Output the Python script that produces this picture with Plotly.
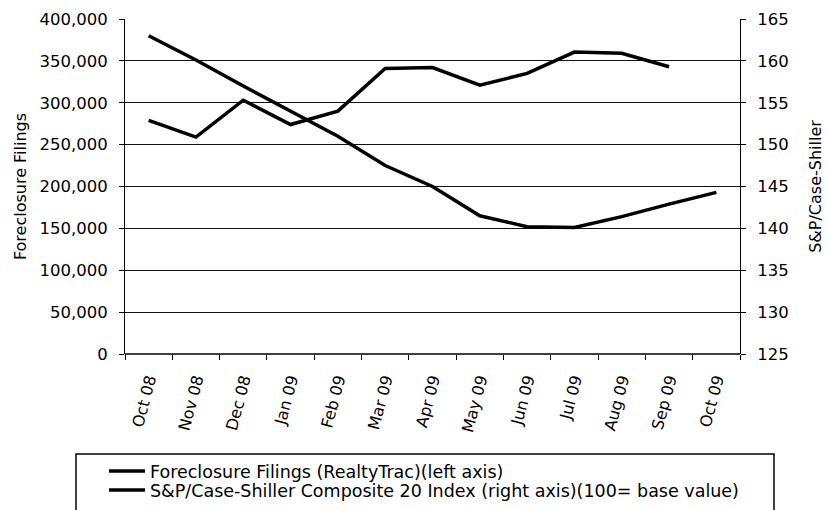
import plotly.graph_objects as go

months = ["Oct 08", "Nov 08", "Dec 08", "Jan 09", "Feb 09", "Mar 09", "Apr 09",
          "May 09", "Jun 09", "Jul 09", "Aug 09", "Sep 09", "Oct 09"]
foreclosure_filings = [279000, 259000, 303000, 274000, 290000, 341000, 342000,
                       321000, 335000, 360500, 359000, 343000, None]
case_shiller = [163.0, 160.1, 157.0, 154.0, 151.0, 147.5, 145.0,
                141.5, 140.2, 140.1, 141.4, 142.9, 144.3]

left_ticks = list(range(0, 400001, 50000))
right_ticks = list(range(125, 166, 5))

FONT = "DejaVu Sans, sans-serif"
W, H = 827, 510
L, R, T, B = 125, 740, 19, 354

fig = go.Figure()
fig.add_trace(go.Scatter(x=months, y=foreclosure_filings, mode="lines",
                         name="Foreclosure Filings (RealtyTrac)(left axis)",
                         line=dict(color="black", width=3.5), yaxis="y",
                         legend="legend"))
fig.add_trace(go.Scatter(x=months, y=case_shiller, mode="lines",
                         name="S&P/Case-Shiller Composite 20 Index (right axis)(100= base value)",
                         line=dict(color="black", width=3.5), yaxis="y2",
                         legend="legend2"))

def px_x(p):
    return (p - L) / (R - L)

def px_y(p):
    return (B - p) / (B - T)

leg_common = dict(xanchor="left", yanchor="middle", bgcolor="rgba(0,0,0,0)",
                  borderwidth=0, font=dict(size=17.5), itemwidth=36)

fig.update_layout(
    width=W, height=H,
    margin=dict(l=L, r=W - R, t=T, b=H - B, autoexpand=False),
    paper_bgcolor="white", plot_bgcolor="white",
    font=dict(family=FONT, size=16.5, color="black"),
    showlegend=True,
    xaxis=dict(type="category", range=[-0.5, len(months) - 0.5],
               tickangle=-75, tickson="boundaries",
               ticks="outside", ticklen=5, tickcolor="black",
               showline=False, showgrid=False, zeroline=False,
               tickfont=dict(size=16), automargin=False,
               ticklabelstandoff=12),
    yaxis=dict(range=[0, 400000], tickvals=left_ticks,
               tickformat=",d", ticks="outside", ticklen=5, tickcolor="black",
               showline=True, linecolor="black", linewidth=1,
               showgrid=True, gridcolor="#111111", gridwidth=1,
               zeroline=False, automargin=False, ticklabelstandoff=8,
               title=dict(text="Foreclosure Filings", standoff=8,
                          font=dict(size=16))),
    yaxis2=dict(range=[125, 165], tickvals=right_ticks, overlaying="y",
                side="right", ticks="outside", ticklen=5, tickcolor="black",
                showline=True, linecolor="black", linewidth=1,
                showgrid=False, zeroline=False, automargin=False,
                ticklabelstandoff=8,
                title=dict(text="S&P/Case-Shiller", standoff=22,
                           font=dict(size=16))),
    legend=dict(x=px_x(104), y=px_y(471), **leg_common),
    legend2=dict(x=px_x(104), y=px_y(490), **leg_common),
    shapes=[dict(type="rect", xref="paper", yref="paper",
                 x0=px_x(76), x1=px_x(774), y0=px_y(530), y1=px_y(454),
                 line=dict(color="black", width=1.5)),
            dict(type="line", xref="paper", yref="paper",
                 x0=0, x1=1, y0=0, y1=0, line=dict(color="black", width=1.5))],
)

fig.write_html("out.html", config={"displayModeBar": False},
               post_script="document.body.style.margin='0px';document.body.style.padding='0px';")
